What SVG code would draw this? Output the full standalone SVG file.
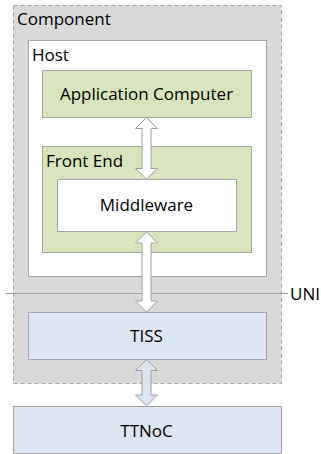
<svg xmlns="http://www.w3.org/2000/svg" width="321" height="454" viewBox="0 0 321 454">
<style>
text{font-family:"Open Sans","Liberation Sans",sans-serif;font-size:17px;fill:#000}
.c{text-anchor:middle}
.box{stroke:#a6a6a6;stroke-width:1}
.green{fill:#d7e4bd;stroke:#a3a89a}
.blue{fill:#dce6f2;stroke:#a6a6a6}
.arr{stroke:#a0a0a0;stroke-width:1;stroke-linejoin:miter}
</style>
<rect width="321" height="454" fill="#fff"/>
<g id="component">
<rect x="13.5" y="5.5" width="268" height="378" fill="#d9d9d9" stroke="#a6a6a6" stroke-dasharray="4,3"/>
<text x="17" y="25">Component</text>
</g>
<g id="host">
<rect class="box" x="28.5" y="40.5" width="238" height="236" fill="#fff"/>
<text x="32" y="61">Host</text>
</g>
<g id="app">
<rect class="green" x="42.5" y="70.5" width="209" height="47"/>
<text class="c" x="146.5" y="100">Application Computer</text>
</g>
<g id="frontend">
<rect class="green" x="42.5" y="146.5" width="209" height="106"/>
<text x="46" y="167">Front End</text>
</g>
<g id="middleware">
<rect class="box" x="57.5" y="179.5" width="179" height="52" fill="#fff"/>
<text class="c" x="146.5" y="211">Middleware</text>
</g>
<g id="uni">
<line x1="5" y1="293.5" x2="288" y2="293.5" stroke="#a0a0a0"/>
<text x="290" y="300" font-size="16">UNI</text>
</g>
<g id="tiss">
<rect class="blue" x="28.5" y="312.5" width="238" height="47"/>
<text class="c" x="146.5" y="342">TISS</text>
</g>
<g id="ttnoc">
<rect class="blue" x="13.5" y="406.5" width="268" height="47"/>
<text class="c" x="146.5" y="437">TTNoC</text>
</g>
<g id="connectors">
<path class="arr" fill="#fff" d="M146.5,117.5 L157.5,128.5 L151,128.5 L151,168.5 L157.5,168.5 L146.5,179 L135.5,168.5 L142,168.5 L142,128.5 L135.5,128.5 Z"/>
<path class="arr" fill="#fff" d="M146.5,232 L157.5,243 L151,243 L151,301 L157.5,301 L146.5,312 L135.5,301 L142,301 L142,243 L135.5,243 Z"/>
<path class="arr" fill="#dce6f2" d="M146.5,359.5 L157.5,370.5 L151,370.5 L151,395 L157.5,395 L146.5,406 L135.5,395 L142,395 L142,370.5 L135.5,370.5 Z"/>
</g>
</svg>
